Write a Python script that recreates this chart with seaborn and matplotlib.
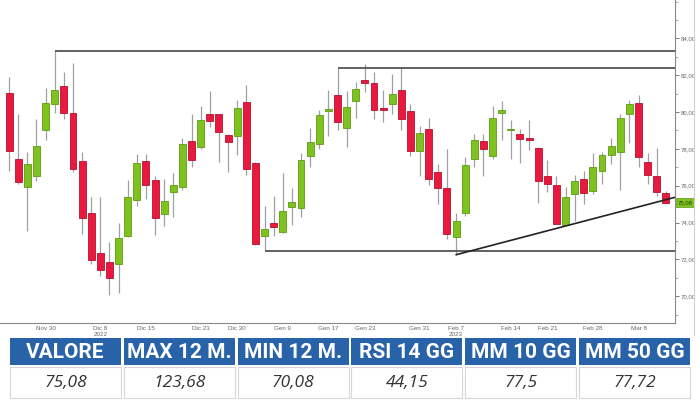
import matplotlib
matplotlib.use("Agg")
import matplotlib.pyplot as plt
import matplotlib.transforms as mtransforms
import numpy as np
import pandas as pd
import seaborn as sns
from matplotlib.lines import Line2D
from matplotlib.patches import Rectangle
from matplotlib.ticker import FuncFormatter, MultipleLocator

# daily candles (one per trading day)
opens = [81.06, 77.46, 75.91, 76.51, 79.00, 80.42, 81.42, 79.97, 77.33, 74.52,
         72.34, 71.83, 71.74, 73.24, 75.23, 77.33, 76.32, 74.46, 75.64, 75.95,
         78.42, 78.13, 79.87, 79.87, 78.78, 78.69, 80.55, 77.22, 73.24, 73.95,
         73.46, 74.82, 74.77, 77.64, 78.28, 80.06, 80.91, 79.13, 80.58, 81.73,
         81.60, 80.22, 80.42, 81.22, 80.04, 77.86, 79.06, 76.73, 75.88, 73.19,
         74.50, 77.46, 78.42, 77.59, 79.95, 79.02, 78.82, 78.56, 78.06, 76.50,
         76.06, 73.88, 75.55, 76.37, 75.69, 76.78, 77.69, 77.82, 79.91, 80.49,
         77.28, 76.50, 75.60]
highs = [81.91, 79.91, 77.82, 79.64, 81.33, 83.33, 82.18, 82.67, 77.82, 75.37,
         75.37, 72.92, 74.00, 76.32, 77.73, 77.73, 76.55, 76.37, 76.68, 78.60,
         79.91, 80.31, 81.14, 79.91, 78.80, 80.64, 81.49, 77.31, 74.92, 75.46,
         76.70, 75.88, 77.79, 79.15, 80.09, 81.18, 82.37, 81.13, 81.64, 82.60,
         82.18, 81.18, 82.09, 82.42, 80.46, 79.22, 79.69, 77.19, 78.01, 74.50,
         77.55, 78.82, 78.82, 80.31, 80.60, 79.59, 79.10, 79.55, 78.10, 77.37,
         76.50, 75.95, 76.60, 76.78, 77.79, 77.82, 78.60, 79.91, 80.64, 80.91,
         77.77, 78.06, 75.69]
lows = [76.82, 76.10, 73.55, 76.28, 78.46, 79.95, 79.64, 76.73, 73.37, 71.74,
        71.10, 70.08, 70.19, 73.19, 74.92, 75.28, 73.33, 73.83, 74.32, 75.77,
        77.00, 78.01, 79.18, 77.27, 76.73, 77.69, 76.59, 72.80, 72.46, 73.28,
        73.44, 73.88, 74.32, 77.04, 77.97, 78.68, 79.00, 78.10, 79.69, 81.09,
        79.64, 79.46, 79.91, 79.00, 77.64, 76.51, 76.04, 75.01, 73.10, 72.25,
        74.37, 77.04, 76.51, 77.46, 78.46, 77.46, 77.22, 77.95, 75.04, 75.64,
        73.90, 73.86, 74.10, 75.01, 75.55, 76.10, 77.19, 75.77, 78.31, 77.00,
        76.10, 75.46, 75.04]
closes = [77.91, 76.22, 77.19, 78.18, 80.51, 81.18, 79.97, 76.92, 74.24, 71.96,
          71.41, 70.98, 73.16, 75.37, 77.24, 76.06, 74.24, 75.19, 76.06, 78.28,
          77.42, 79.55, 79.51, 78.91, 78.37, 80.24, 76.92, 72.83, 73.65, 73.77,
          74.60, 75.10, 77.37, 78.37, 79.82, 80.19, 79.46, 80.28, 81.28, 81.58,
          80.09, 80.13, 81.00, 79.64, 77.86, 78.86, 76.37, 75.86, 73.37, 74.10,
          77.13, 78.49, 78.01, 79.69, 80.13, 79.06, 78.55, 78.50, 76.28, 76.10,
          73.92, 75.37, 76.28, 75.60, 77.00, 77.68, 78.15, 79.67, 80.46, 77.55,
          76.60, 75.68, 75.08]

tick_pos = [5, 11, 16, 22, 26, 31, 36, 40, 46, 50, 56, 60, 65, 70]
tick_labels = ["Nov 30", "Dic 8\n2022", "Dic 15", "Dic 23", "Dic 30", "Gen 9",
               "Gen 17", "Gen 23", "Gen 31", "Feb 7\n2023", "Feb 14", "Feb 21",
               "Feb 28", "Mar 8"]

# horizontal support / resistance levels and the rising trendline
level_values = [83.33, 82.37, 72.45]
level_starts = [6, 37, 29]
trend_x = [50, 74]
trend_y = [72.25, 75.37]

headers = ["VALORE", "MAX 12 M.", "MIN 12 M.", "RSI 14 GG", "MM 10 GG", "MM 50 GG"]
values = ["75,08", "123,68", "70,08", "44,15", "77,5", "77,72"]

GREEN, GREEN_EDGE = "#7dc21e", "#5f9a12"
RED, RED_EDGE = "#e8183f", "#b5102e"
BLUE = "#2862a8"
SMALL = ["Liberation Sans", "DejaVu Sans"]

sns.set_theme(style="white")

df = pd.DataFrame({"open": opens, "high": highs, "low": lows, "close": closes})
df["idx"] = np.arange(1, len(df) + 1)
df["up"] = df["close"] >= df["open"]

fig = plt.figure(figsize=(7, 4), dpi=100)
ax = fig.add_axes([0, 77 / 400, 675 / 700, 323 / 400])

ax.vlines(df["idx"], df["low"], df["high"], color="#a0a0a0", lw=0.9, zorder=1)
body_bottom = df[["open", "close"]].min(axis=1)
body_height = (df["close"] - df["open"]).abs().clip(lower=0.07)
ax.bar(df["idx"], body_height, bottom=body_bottom, width=0.76,
       color=np.where(df["up"], GREEN, RED),
       edgecolor=np.where(df["up"], GREEN_EDGE, RED_EDGE), lw=0.6, zorder=2)

xmax = 74
for v, s in zip(level_values, level_starts):
    ax.hlines(v, s, xmax, color="#555555", lw=1.3, zorder=3)
sns.lineplot(x=trend_x, y=trend_y, ax=ax, color="#222222", lw=1.2, zorder=4)

ax.set_xlim(0, xmax)
ax.set_ylim(68.54, 86.09)

for side in ("top", "left"):
    ax.spines[side].set_visible(False)
for side in ("right", "bottom"):
    ax.spines[side].set_color("#888888")
    ax.spines[side].set_linewidth(0.8)

ax.yaxis.tick_right()
ax.set_yticks(np.arange(70, 85, 2))
ax.yaxis.set_minor_locator(MultipleLocator(1))
ax.yaxis.set_major_formatter(FuncFormatter(lambda v, _: f"{v:.2f}".replace(".", ",")))
ax.tick_params(axis="y", which="major", labelsize=4.3, colors="#666666", length=3, width=0.6, pad=1)
ax.tick_params(axis="y", which="minor", colors="#888888", length=2, width=0.5)
for lab in ax.get_yticklabels():
    lab.set_family(SMALL)

ax.set_xticks(tick_pos)
ax.set_xticklabels(tick_labels, family=SMALL, linespacing=1.1)
ax.xaxis.set_minor_locator(MultipleLocator(1))
ax.tick_params(axis="x", which="major", labelsize=4.5, colors="#666666", length=3,
               width=0.6, pad=1, direction="inout")
ax.tick_params(axis="x", which="minor", colors="#888888", length=2, width=0.5, direction="inout")
ax.set_xlabel("")
ax.set_ylabel("")

# last price tag on the right axis
trans = mtransforms.blended_transform_factory(ax.transAxes, ax.transData)
ax.text(1.004, closes[-1], f"{closes[-1]:.2f}".replace(".", ","), transform=trans,
        fontsize=4.3, family=SMALL, color="#2a3a10", va="center", ha="left", clip_on=False,
        bbox=dict(boxstyle="square,pad=0.3", fc=GREEN, ec=GREEN_EDGE, lw=0.5))

fig.add_artist(Line2D([694 / 700, 694 / 700], [1 - 335 / 400, 1], color="#d0d0d0", lw=0.8))

# summary table under the chart
tax = fig.add_axes([0, 0, 1, 77 / 400])
tax.set_xlim(0, 700)
tax.set_ylim(400, 323)
tax.set_axis_off()
tax.patch.set_alpha(0)
col_w = 111
for i, (h, v) in enumerate(zip(headers, values)):
    left = 10 + i * 113.8
    tax.add_patch(Rectangle((left, 338), col_w, 27, fc=BLUE, ec="none"))
    tax.add_patch(Rectangle((left, 367), col_w, 31, fc="white", ec="#d6d6d6", lw=0.8))
    tax.text(left + col_w / 2, 352, h, ha="center", va="center", color="white",
             fontsize=15, fontweight="bold", family=["Roboto", "DejaVu Sans"])
    tax.text(left + col_w / 2, 383, v, ha="center", va="center", color="#333333",
             fontsize=12.5, fontstyle="italic", family=["Open Sans", "DejaVu Sans"])

fig.savefig("out.png", dpi=100)
